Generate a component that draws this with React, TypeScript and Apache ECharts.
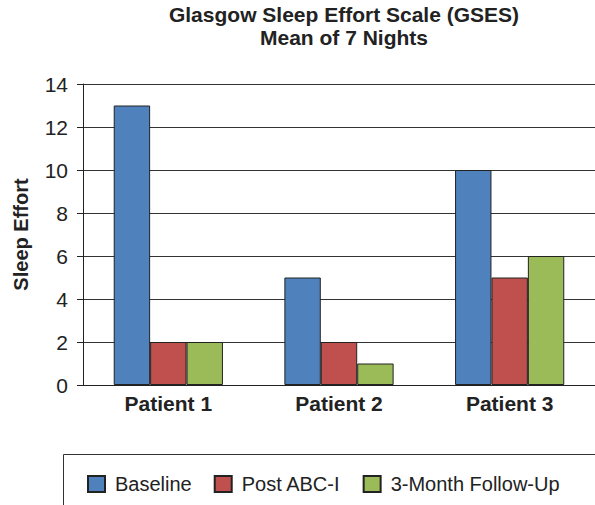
import React, { useEffect, useRef } from "react";
import * as echarts from "echarts";

const patients = ["Patient 1", "Patient 2", "Patient 3"];
const baseline = [13, 5, 10];
const postAbc = [2, 2, 5];
const followUp = [2, 1, 6];
const seriesNames = ["Baseline", "Post ABC-I", "3-Month Follow-Up"];
const seriesColors = ["#4F81BD", "#C0504D", "#9BBB59"];

const FONT = "'Liberation Sans', Arial, Helvetica, sans-serif";

export default function App() {
  const ref = useRef<HTMLDivElement>(null);

  useEffect(() => {
    if (!ref.current) return;
    const chart = echarts.init(ref.current, null, { renderer: "svg" });
    const values = [baseline, postAbc, followUp];
    chart.setOption({
      animation: false,
      backgroundColor: "#ffffff",
      textStyle: { fontFamily: FONT },
      title: {
        text: "Glasgow Sleep Effort Scale (GSES)\nMean of 7 Nights",
        left: 339,
        top: -2,
        textAlign: "center",
        textStyle: {
          fontFamily: FONT,
          fontSize: 21,
          fontWeight: "bold",
          color: "#222",
          lineHeight: 23,
        },
      },
      grid: { left: 83, right: -2, top: 84, bottom: 120, containLabel: false },
      xAxis: {
        type: "category",
        data: patients,
        axisLine: { show: true, lineStyle: { color: "#222", width: 1 } },
        axisTick: { show: false },
        axisLabel: {
          fontFamily: FONT,
          fontSize: 21,
          fontWeight: "bold",
          color: "#222",
          margin: 8,
        },
      },
      yAxis: {
        type: "value",
        min: 0,
        max: 14,
        interval: 2,
        name: "Sleep Effort",
        nameLocation: "middle",
        nameGap: 52,
        nameTextStyle: {
          fontFamily: FONT,
          fontSize: 20,
          fontWeight: "bold",
          color: "#222",
        },
        axisLine: { show: true, lineStyle: { color: "#222", width: 1 } },
        axisTick: { show: true, length: 6, lineStyle: { color: "#222" } },
        axisLabel: {
          fontFamily: FONT,
          fontSize: 21,
          color: "#222",
          margin: 15,
        },
        splitLine: { show: true, lineStyle: { color: "#333", width: 1 } },
      },
      legend: {
        data: seriesNames,
        left: 82,
        top: 469,
        itemWidth: 17,
        itemHeight: 16,
        itemGap: 22,
        icon: "rect",
        textStyle: {
          fontFamily: FONT,
          fontSize: 20,
          color: "#222",
          padding: [0, 0, 0, 5],
        },
      },
      graphic: [
        {
          type: "rect",
          shape: { x: 63.5, y: 454.5, width: 600, height: 100 },
          style: { fill: "none", stroke: "#333", lineWidth: 1 },
          z: 10,
        },
      ],
      series: seriesNames.map((name, i) => ({
        name,
        type: "bar",
        data: values[i],
        barGap: "0%",
        barCategoryGap: "36%",
        itemStyle: {
          color: seriesColors[i],
          borderColor: "#222",
          borderWidth: 1,
        },
      })),
    });
    return () => chart.dispose();
  }, []);

  return (
    <div
      ref={ref}
      style={{ position: "fixed", left: 0, top: 0, width: 595, height: 505 }}
    />
  );
}
